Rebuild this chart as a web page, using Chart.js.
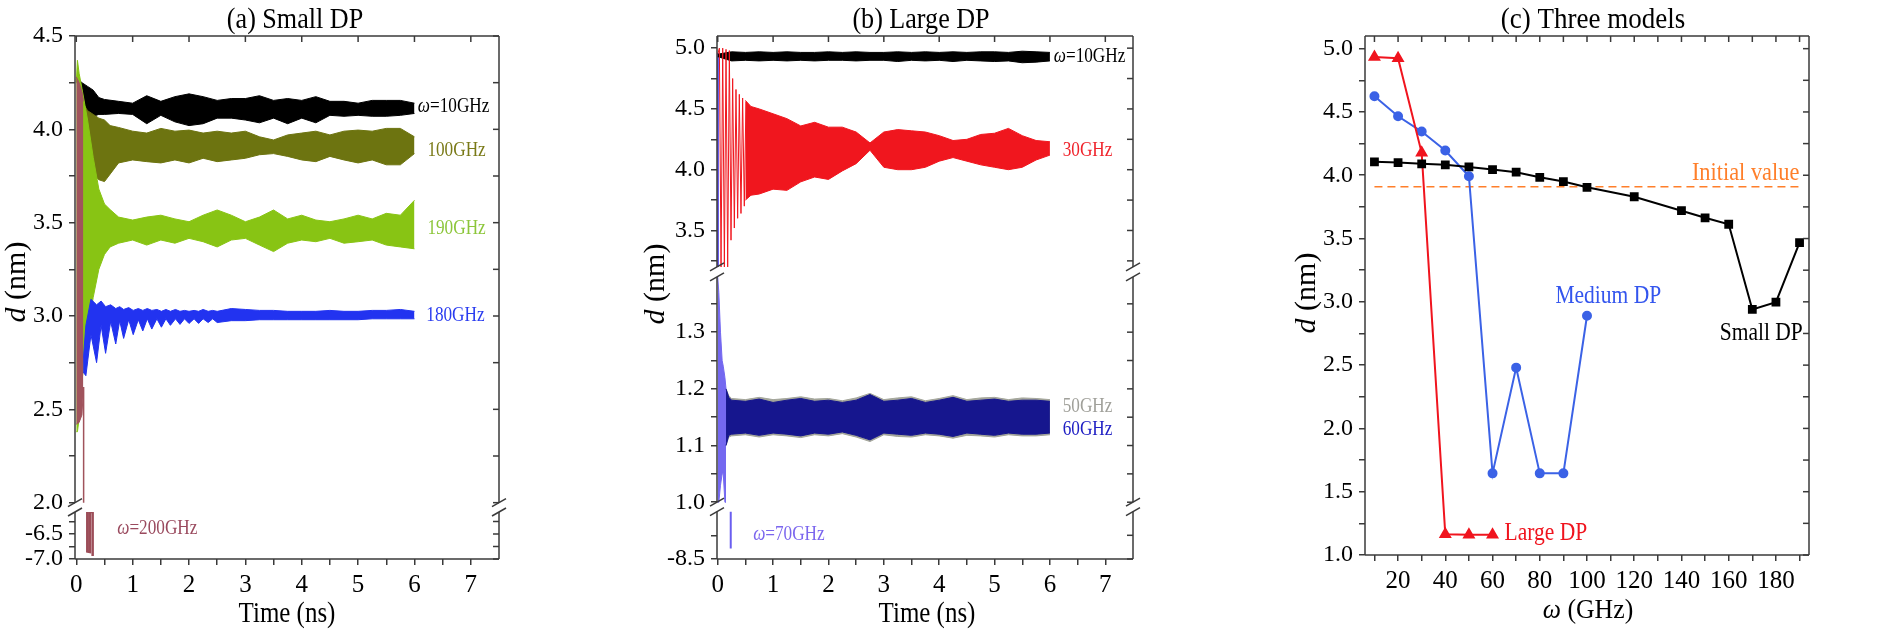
<!DOCTYPE html>
<html>
<head>
<meta charset="utf-8">
<script src="https://cdn.jsdelivr.net/npm/chart.js@4.4.1/dist/chart.umd.min.js"></script>
<style>
  body { margin: 0; background: #fff; width: 1900px; height: 635px; position: relative; overflow: hidden; }
  canvas { position: absolute; top: 0; }
</style>
</head>
<body>
<canvas id="pa" width="560" height="635" style="left:0px"></canvas>
<canvas id="pb" width="560" height="635" style="left:620px"></canvas>
<canvas id="pc" width="640" height="635" style="left:1260px"></canvas>
<script>
var FONT = '"Liberation Serif", "DejaVu Serif", serif';
var AX = "#3a3a3a";

// ---- axis ticks ----
var timeTicks = [0, 0.5, 1, 1.5, 2, 2.5, 3, 3.5, 4, 4.5, 5, 5.5, 6, 6.5, 7];
var timeLabels = [0, 1, 2, 3, 4, 5, 6, 7];
var aTopTicks = [2, 2.25, 2.5, 2.75, 3, 3.25, 3.5, 3.75, 4, 4.25, 4.5];
var aTopLabels = [2, 2.5, 3, 3.5, 4, 4.5];
var aLowTicks = [-7, -6.75, -6.5, -6.25];
var aLowLabels = [-7, -6.5];
var bTopTicks = [3.25, 3.5, 3.75, 4, 4.25, 4.5, 4.75, 5];
var bTopLabels = [3.5, 4, 4.5, 5];
var bMidTicks = [1, 1.05, 1.1, 1.15, 1.2, 1.25, 1.3, 1.35];
var bMidLabels = [1, 1.1, 1.2, 1.3];
var bLowTicks = [-8.5, -8];
var bLowLabels = [-8.5];
var cYTicks = [1, 1.25, 1.5, 1.75, 2, 2.25, 2.5, 2.75, 3, 3.25, 3.5, 3.75, 4, 4.25, 4.5, 4.75, 5];
var cYLabels = [1, 1.5, 2, 2.5, 3, 3.5, 4, 4.5, 5];
var cXTicks = [10, 20, 30, 40, 50, 60, 70, 80, 90, 100, 110, 120, 130, 140, 150, 160, 170, 180, 190];
var cXLabels = [20, 40, 60, 80, 100, 120, 140, 160, 180];

// ---- (a) Small DP: envelopes of the oscillating traces ----
var a10T  = [0, 0.1, 0.2, 0.3, 0.4, 0.5, 0.75, 1, 1.25, 1.5, 1.75, 2, 2.25, 2.5, 2.75, 3, 3.25, 3.5, 3.75, 4, 4.25, 4.5, 4.75, 5, 5.25, 5.5, 5.75, 6];
var a10Hi = [4.28, 4.25, 4.23, 4.21, 4.17, 4.16, 4.15, 4.14, 4.18, 4.15, 4.175, 4.19, 4.175, 4.155, 4.165, 4.165, 4.18, 4.155, 4.165, 4.155, 4.175, 4.15, 4.15, 4.14, 4.155, 4.155, 4.155, 4.14];
var a10Lo = [4.27, 4.15, 4.08, 4.07, 4.08, 4.08, 4.085, 4.08, 4.03, 4.075, 4.04, 4.02, 4.03, 4.06, 4.06, 4.05, 4.035, 4.06, 4.03, 4.06, 4.035, 4.075, 4.07, 4.075, 4.07, 4.07, 4.075, 4.085];

var a100T  = [0.05, 0.1, 0.2, 0.3, 0.4, 0.5, 0.6, 0.75, 1, 1.25, 1.5, 1.75, 2, 2.25, 2.5, 2.75, 3, 3.25, 3.5, 3.75, 4, 4.25, 4.5, 4.75, 5, 5.25, 5.5, 5.75, 6];
var a100Hi = [4.22, 4.15, 4.1, 4.08, 4.06, 4.05, 4.02, 4.01, 3.99, 3.98, 4.005, 3.99, 3.996, 3.98, 3.99, 3.98, 3.99, 3.96, 3.943, 3.97, 3.98, 3.99, 3.97, 3.99, 3.996, 3.99, 4.005, 4.005, 3.96];
var a100Lo = [4.2, 4.0, 3.85, 3.76, 3.73, 3.72, 3.76, 3.82, 3.836, 3.827, 3.82, 3.836, 3.82, 3.845, 3.827, 3.836, 3.845, 3.864, 3.87, 3.855, 3.836, 3.827, 3.855, 3.836, 3.82, 3.836, 3.81, 3.81, 3.87];

var a190T  = [0, 0.02, 0.05, 0.1, 0.2, 0.3, 0.4, 0.5, 0.6, 0.75, 1, 1.25, 1.5, 1.75, 2, 2.25, 2.5, 2.75, 3, 3.25, 3.5, 3.75, 4, 4.25, 4.5, 4.75, 5, 5.25, 5.5, 5.75, 6];
var a190Hi = [4.25, 4.37, 4.3, 4.22, 4.05, 3.85, 3.68, 3.6, 3.57, 3.53, 3.514, 3.53, 3.54, 3.52, 3.505, 3.54, 3.568, 3.54, 3.505, 3.53, 3.568, 3.52, 3.54, 3.514, 3.505, 3.52, 3.54, 3.52, 3.55, 3.54, 3.62];
var a190Lo = [2.38, 2.38, 2.45, 2.65, 2.9, 3.1, 3.25, 3.33, 3.37, 3.39, 3.407, 3.38, 3.407, 3.39, 3.416, 3.398, 3.37, 3.407, 3.416, 3.38, 3.345, 3.39, 3.407, 3.398, 3.416, 3.39, 3.398, 3.407, 3.38, 3.37, 3.36];

// 180 GHz: scalloped start, read dip by dip
var a180T  = [0.12, 0.17, 0.26, 0.36, 0.44, 0.52, 0.61, 0.7, 0.77, 0.84, 0.93, 1.01, 1.1, 1.18, 1.26, 1.34, 1.43, 1.51, 1.59, 1.67, 1.76, 1.84, 1.92, 2.0, 2.09, 2.17, 2.25, 2.34, 2.42, 2.5, 2.75, 3, 3.25, 3.5, 3.75, 4, 4.25, 4.5, 4.75, 5, 5.25, 5.5, 5.75, 6];
var a180Hi = [2.75, 2.95, 3.09, 3.06, 3.08, 3.05, 3.06, 3.04, 3.05, 3.035, 3.045, 3.03, 3.04, 3.03, 3.04, 3.03, 3.035, 3.025, 3.035, 3.025, 3.035, 3.025, 3.03, 3.025, 3.03, 3.025, 3.035, 3.025, 3.03, 3.025, 3.04, 3.035, 3.03, 3.03, 3.025, 3.025, 3.025, 3.03, 3.025, 3.025, 3.03, 3.03, 3.035, 3.025];
var a180Lo = [2.7, 2.68, 2.9, 2.75, 2.95, 2.8, 2.97, 2.85, 2.975, 2.88, 2.98, 2.9, 2.98, 2.92, 2.985, 2.93, 2.985, 2.94, 2.985, 2.95, 2.985, 2.955, 2.985, 2.96, 2.985, 2.96, 2.985, 2.965, 2.985, 2.965, 2.975, 2.975, 2.98, 2.98, 2.98, 2.98, 2.98, 2.98, 2.98, 2.98, 2.985, 2.985, 2.985, 2.985];

var a200T  = [0, 0.05, 0.1, 0.125];
var a200Hi = [4.28, 4.25, 4.2, 4.15];
var a200Lo = [2.42, 2.43, 2.47, 2.6];
var a200DropX = [0.13, 0.13];
var a200DropY = [2.62, 2.0];
var a200LowX = [0.195, 0.195, 0.24, 0.24, 0.29, 0.29];
var a200LowY = [-6.06, -6.85, -6.86, -6.06, -6.06, -6.94];

// ---- (b) Large DP ----
var b10T  = [0, 0.25, 0.5, 0.75, 1, 1.25, 1.5, 1.75, 2, 2.25, 2.5, 2.75, 3, 3.25, 3.5, 3.75, 4, 4.25, 4.5, 4.75, 5, 5.25, 5.5, 5.75, 6];
var b10Hi = [4.95, 4.97, 4.965, 4.97, 4.965, 4.97, 4.965, 4.965, 4.97, 4.965, 4.97, 4.965, 4.965, 4.97, 4.965, 4.97, 4.965, 4.97, 4.965, 4.97, 4.97, 4.965, 4.975, 4.97, 4.965];
var b10Lo = [4.93, 4.895, 4.9, 4.895, 4.9, 4.895, 4.9, 4.895, 4.9, 4.9, 4.895, 4.9, 4.9, 4.89, 4.9, 4.895, 4.9, 4.89, 4.9, 4.895, 4.89, 4.895, 4.88, 4.885, 4.895];

var b30ZigT = [0, 0.03, 0.06, 0.09, 0.12, 0.15, 0.18, 0.21, 0.24, 0.27, 0.3, 0.33, 0.36, 0.39, 0.42, 0.45, 0.48, 0.51];
var b30ZigD = [4.95, 5.0, 3.2, 5.0, 3.2, 4.99, 3.2, 4.98, 3.42, 4.75, 3.52, 4.66, 3.6, 4.62, 3.64, 4.59, 3.7, 4.56];
var b30T  = [0.5, 0.6, 0.75, 1, 1.25, 1.5, 1.75, 2, 2.25, 2.5, 2.75, 3, 3.25, 3.5, 3.75, 4, 4.25, 4.5, 4.75, 5, 5.25, 5.5, 5.75, 6];
var b30Hi = [4.57, 4.52, 4.5, 4.46, 4.42, 4.36, 4.39, 4.35, 4.35, 4.31, 4.22, 4.31, 4.33, 4.32, 4.31, 4.28, 4.24, 4.25, 4.29, 4.3, 4.34, 4.28, 4.24, 4.23];
var b30Lo = [3.75, 3.79, 3.8, 3.84, 3.83, 3.9, 3.94, 3.92, 3.99, 4.05, 4.16, 4.02, 4.0, 4.0, 4.02, 4.07, 4.1, 4.07, 4.04, 4.02, 4.0, 4.02, 4.08, 4.12];

var b70UpX = [0.005, 0.005];
var b70UpY = [4.96, 3.2];
var b70T  = [0, 0.02, 0.05, 0.08, 0.1, 0.13, 0.15];
var b70Hi = [1.3975, 1.37, 1.3, 1.25, 1.24, 1.22, 1.2];
var b70Lo = [1.0, 1.0, 1.03, 1.05, 1.05, 1.0, 1.0];
var b70LowX = [0.235, 0.235];
var b70LowY = [-7.5, -8.28];

var b60T  = [0.15, 0.2, 0.25, 0.5, 0.75, 1, 1.25, 1.5, 1.75, 2, 2.25, 2.5, 2.75, 3, 3.25, 3.5, 3.75, 4, 4.25, 4.5, 4.75, 5, 5.25, 5.5, 5.75, 6];
var b60Hi = [1.2, 1.185, 1.18, 1.178, 1.182, 1.176, 1.18, 1.183, 1.178, 1.18, 1.176, 1.18, 1.19, 1.178, 1.18, 1.183, 1.176, 1.18, 1.185, 1.178, 1.18, 1.182, 1.178, 1.18, 1.18, 1.178];
var b60Lo = [1.1, 1.118, 1.12, 1.122, 1.118, 1.122, 1.12, 1.117, 1.122, 1.12, 1.124, 1.118, 1.11, 1.122, 1.12, 1.118, 1.122, 1.12, 1.116, 1.122, 1.12, 1.118, 1.122, 1.12, 1.12, 1.122];
var b50Hi = [1.2, 1.188, 1.183, 1.181, 1.185, 1.181, 1.183, 1.186, 1.182, 1.183, 1.179, 1.184, 1.192, 1.181, 1.184, 1.186, 1.179, 1.183, 1.188, 1.181, 1.184, 1.185, 1.181, 1.184, 1.183, 1.181];
var b50Lo = [1.1, 1.115, 1.117, 1.119, 1.115, 1.119, 1.117, 1.114, 1.119, 1.117, 1.121, 1.115, 1.107, 1.119, 1.116, 1.115, 1.119, 1.117, 1.113, 1.118, 1.117, 1.115, 1.119, 1.117, 1.117, 1.119];

// ---- (c) Three models ----
var cSmallW = [10, 20, 30, 40, 50, 60, 70, 80, 90, 100, 120, 140, 150, 160, 170, 180, 190];
var cSmall  = [4.106, 4.10, 4.09, 4.082, 4.066, 4.045, 4.024, 3.984, 3.95, 3.905, 3.83, 3.72, 3.664, 3.613, 2.94, 2.997, 3.468];
var cMediumW = [10, 20, 30, 40, 50, 60, 70, 80, 90, 100];
var cMedium  = [4.624, 4.466, 4.345, 4.195, 3.992, 1.645, 2.48, 1.645, 1.645, 2.89];
var cLargeW = [10, 20, 30, 40, 50, 60];
var cLarge  = [4.935, 4.925, 4.177, 1.163, 1.16, 1.16];
var cInitW = [10, 190];
var cInit  = [3.91, 3.91];

// ---------------- helpers ----------------
Chart.defaults.font.family = FONT;
Chart.defaults.color = "#000";

function pts(xs, ys) {
  return xs.map(function (x, i) { return { x: x, y: ys[i] }; });
}
function band(t, hi, lo, color, axis) {
  return [
    { data: pts(t, hi), yAxisID: axis, borderColor: color, backgroundColor: color, borderWidth: 1, pointRadius: 0, fill: "+1" },
    { data: pts(t, lo), yAxisID: axis, borderColor: color, borderWidth: 1, pointRadius: 0, fill: false }
  ];
}
function trace(x, y, color, axis, w) {
  return { data: pts(x, y), yAxisID: axis, borderColor: color, borderWidth: w || 1.5, pointRadius: 0, fill: false };
}
function has(list, v) {
  return list.some(function (m) { return Math.abs(m - v) < 1e-6; });
}
function lab(list, dec) {
  return function (v) { return has(list, v) ? Number(v).toFixed(dec) : ""; };
}
function setTicks(vals) {
  return function (sc) { sc.ticks = vals.map(function (v) { return { value: v }; }); };
}

function yAxes(segs, width) {
  var out = {};
  segs.forEach(function (s, i) {
    out[s.id] = {
      type: "linear", position: "left", stack: "d", stackWeight: s.px, weight: segs.length - i,
      min: s.min, max: s.max, bounds: "data",
      border: { display: false },
      grid: { drawOnChartArea: false, tickLength: 6, color: AX, lineWidth: 1.5 },
      ticks: { font: { size: 24 }, color: "#000", padding: 6, autoSkip: false, callback: lab(s.labels, 1) },
      afterBuildTicks: setTicks(s.ticks),
      afterFit: function (sc) { sc.width = width; }
    };
  });
  return out;
}
function xAxis(min, max, ticks, labels, height) {
  return {
    type: "linear", position: "bottom", min: min, max: max, bounds: "data",
    border: { display: false },
    grid: { drawOnChartArea: false, tickLength: 6, color: AX, lineWidth: 1.5 },
    ticks: { font: { size: 25 }, color: "#000", padding: 5, autoSkip: false, maxRotation: 0, callback: lab(labels, 0) },
    afterBuildTicks: setTicks(ticks),
    afterFit: function (sc) { sc.height = height; }
  };
}

function line(ctx, x1, y1, x2, y2) {
  ctx.beginPath(); ctx.moveTo(x1, y1); ctx.lineTo(x2, y2); ctx.stroke();
}
function brk(ctx, x, y) {
  line(ctx, x - 7, y + 4, x + 7, y - 4);
}
function write(ctx, parts, x, y, size, color, align, sq, rot) {
  ctx.save();
  ctx.translate(x, y);
  if (rot) ctx.rotate(-Math.PI / 2); else ctx.scale(sq || 1, 1);
  ctx.fillStyle = color;
  ctx.textBaseline = "middle";
  ctx.textAlign = "left";
  function f(p) { return (p[1] ? "italic " : "") + size + "px " + FONT; }
  var w = 0;
  parts.forEach(function (p) { ctx.font = f(p); w += ctx.measureText(p[0]).width; });
  var cx = align === "left" ? 0 : align === "right" ? -w : -w / 2;
  parts.forEach(function (p) { ctx.font = f(p); ctx.fillText(p[0], cx, 0); cx += ctx.measureText(p[0]).width; });
  ctx.restore();
}

// frame, broken-axis marks, mirrored ticks and all the text
function deco(cfg) {
  return {
    id: "deco",
    afterDraw: function (chart) {
      var ctx = chart.ctx, a = chart.chartArea, xs = chart.scales.x;
      ctx.save();
      ctx.strokeStyle = AX;
      ctx.lineWidth = 1.5;
      line(ctx, a.left, a.top, a.right, a.top);
      line(ctx, a.left, a.bottom, a.right, a.bottom);
      var prevLo = null;
      cfg.segs.forEach(function (s) {
        var sc = chart.scales[s.id];
        var yHi = sc.getPixelForValue(s.hi), yLo = sc.getPixelForValue(s.lo);
        line(ctx, a.left, yHi, a.left, yLo);
        line(ctx, a.right, yHi, a.right, yLo);
        s.ticks.forEach(function (v) {
          var y = sc.getPixelForValue(v);
          line(ctx, a.right, y, a.right - 6, y);
        });
        if (prevLo !== null) {
          [a.left, a.right].forEach(function (x) { brk(ctx, x, prevLo); brk(ctx, x, yHi); });
        }
        prevLo = yLo;
      });
      cfg.topTicks.forEach(function (v) {
        var x = xs.getPixelForValue(v);
        line(ctx, x, a.top, x, a.top + 6);
      });
      cfg.notes.forEach(function (n) {
        write(ctx, n.p, xs.getPixelForValue(n.x), chart.scales[n.ax].getPixelForValue(n.y),
          n.s, n.c, n.al || "left", 0.86, false);
      });
      cfg.heads.forEach(function (h) {
        write(ctx, h.p, h.x, h.y, h.s, "#000", "center", h.sq, h.rot);
      });
      ctx.restore();
    }
  };
}

function make(id, datasets, scales, pad, cfg) {
  return new Chart(document.getElementById(id), {
    type: "line",
    data: { datasets: datasets },
    options: {
      responsive: false,
      animation: false,
      devicePixelRatio: 1,
      layout: { padding: pad },
      elements: { line: { tension: 0 } },
      plugins: { legend: { display: false }, tooltip: { enabled: false }, title: { display: false } },
      scales: scales
    },
    plugins: [deco(cfg)]
  });
}

// ---------------- (a) ----------------
var aSegs = [
  { id: "y1", min: 1.95, max: 4.5, hi: 4.5, lo: 2.0, px: 476, ticks: aTopTicks, labels: aTopLabels },
  { id: "y2", min: -7.0, max: -6.06, hi: -6.06, lo: -7.0, px: 47, ticks: aLowTicks, labels: aLowLabels }
];
var aScales = yAxes(aSegs, 75);
aScales.x = xAxis(-0.023, 7.5, timeTicks, timeLabels, 76);
make("pa",
  [trace(a200LowX, a200LowY, "#9c4d58", "y2", 2.5)]
    .concat(band(a200T, a200Hi, a200Lo, "#a0535c", "y1"))
    .concat([trace(a200DropX, a200DropY, "#a0535c", "y1", 1.5)])
    .concat(band(a180T, a180Hi, a180Lo, "#2233f0", "y1"))
    .concat(band(a190T, a190Hi, a190Lo, "#88c414", "y1"))
    .concat(band(a100T, a100Hi, a100Lo, "#6d7410", "y1"))
    .concat(band(a10T, a10Hi, a10Lo, "#000000", "y1")),
  aScales,
  { left: 0, right: 61, top: 36, bottom: 0 },
  {
    segs: aSegs,
    topTicks: timeLabels,
    notes: [
      { p: [["\u03c9", 1], ["=10GHz"]], x: 6.06, y: 4.12, ax: "y1", s: 20, c: "#000" },
      { p: [["100GHz"]], x: 6.23, y: 3.886, ax: "y1", s: 20, c: "#7a7a18" },
      { p: [["190GHz"]], x: 6.23, y: 3.47, ax: "y1", s: 20, c: "#8cc63a" },
      { p: [["180GHz"]], x: 6.21, y: 3.0, ax: "y1", s: 20, c: "#2a3cf0" },
      { p: [["\u03c9", 1], ["=200GHz"]], x: 0.727, y: -6.39, ax: "y2", s: 20, c: "#9a4a5e" }
    ],
    heads: [
      { p: [["(a) Small DP"]], x: 295, y: 20, s: 29, sq: 0.9 },
      { p: [["Time (ns)"]], x: 287, y: 614, s: 29, sq: 0.86 },
      { p: [["d", 1], [" (nm)"]], x: 17, y: 282, s: 30, rot: true }
    ]
  });

// ---------------- (b) ----------------
var bSegs = [
  { id: "y1", min: 3.118, max: 5.1, hi: 5.1, lo: 3.2, px: 241, ticks: bTopTicks, labels: bTopLabels },
  { id: "y2", min: 0.9834, max: 1.3975, hi: 1.3975, lo: 1.0, px: 234.8, ticks: bMidTicks, labels: bMidLabels },
  { id: "y3", min: -8.5, max: -7.5, hi: -7.5, lo: -8.5, px: 47.4, ticks: bLowTicks, labels: bLowLabels }
];
var bScales = yAxes(bSegs, 97);
bScales.x = xAxis(-0.013, 7.5, timeTicks, timeLabels, 76);
make("pb",
  [trace(b30ZigT, b30ZigD, "#f0161e", "y1", 1)]
    .concat(band(b30T, b30Hi, b30Lo, "#f0161e", "y1"))
    .concat(band(b10T, b10Hi, b10Lo, "#000000", "y1"))
    .concat([trace(b70UpX, b70UpY, "#6a5ef0", "y1", 2), trace(b70LowX, b70LowY, "#6a5ef0", "y3", 2)])
    .concat(band(b60T, b60Hi, b60Lo, "#16168e", "y2"))
    .concat(band(b70T, b70Hi, b70Lo, "#7468f0", "y2"))
    .concat(band(b60T, b50Hi, b50Lo, "#a3a59a", "y2")),
  bScales,
  { left: 0, right: 47, top: 36, bottom: 0 },
  {
    segs: bSegs,
    topTicks: timeLabels,
    notes: [
      { p: [["\u03c9", 1], ["=10GHz"]], x: 6.07, y: 4.93, ax: "y1", s: 20, c: "#000" },
      { p: [["30GHz"]], x: 6.23, y: 4.16, ax: "y1", s: 20, c: "#f0242c" },
      { p: [["50GHz"]], x: 6.23, y: 1.168, ax: "y2", s: 20, c: "#a0a09a" },
      { p: [["60GHz"]], x: 6.23, y: 1.128, ax: "y2", s: 20, c: "#2020c4" },
      { p: [["\u03c9", 1], ["=70GHz"]], x: 0.64, y: -7.985, ax: "y3", s: 20, c: "#7b66ee" }
    ],
    heads: [
      { p: [["(b) Large DP"]], x: 301, y: 20, s: 29, sq: 0.9 },
      { p: [["Time (ns)"]], x: 307, y: 614, s: 29, sq: 0.86 },
      { p: [["d", 1], [" (nm)"]], x: 36, y: 284, s: 30, rot: true }
    ]
  });

// ---------------- (c) ----------------
var cSegs = [
  { id: "y", min: 1.0, max: 5.1, hi: 5.1, lo: 1.0, px: 1, ticks: cYTicks, labels: cYLabels }
];
var cScales = yAxes(cSegs, 105);
cScales.x = xAxis(6, 194, cXTicks, cXLabels, 80);
make("pc",
  [
    { data: pts(cSmallW, cSmall), yAxisID: "y", borderColor: "#000", backgroundColor: "#000", borderWidth: 2, pointStyle: "rect", pointRadius: 4.8, fill: false },
    { data: pts(cLargeW, cLarge), yAxisID: "y", borderColor: "#f0141e", backgroundColor: "#f0141e", borderWidth: 2, pointStyle: "triangle", pointRadius: 5.5, fill: false },
    { data: pts(cMediumW, cMedium), yAxisID: "y", borderColor: "#3b62e6", backgroundColor: "#3b62e6", borderWidth: 2, pointStyle: "circle", pointRadius: 4, fill: false },
    { data: pts(cInitW, cInit), yAxisID: "y", borderColor: "#ff7f2a", borderWidth: 1.5, borderDash: [8, 5], pointRadius: 0, fill: false }
  ],
  cScales,
  { left: 0, right: 91, top: 36, bottom: 0 },
  {
    segs: cSegs,
    topTicks: cXTicks,
    notes: [
      { p: [["Initial value"]], x: 189.9, y: 4.02, ax: "y", s: 26, c: "#ff7f2a", al: "right" },
      { p: [["Medium DP"]], x: 109, y: 3.04, ax: "y", s: 25, c: "#3355ee", al: "center" },
      { p: [["Small DP"]], x: 173.8, y: 2.75, ax: "y", s: 25, c: "#000", al: "center" },
      { p: [["Large DP"]], x: 65.1, y: 1.17, ax: "y", s: 25, c: "#f0141e" }
    ],
    heads: [
      { p: [["(c) Three models"]], x: 333, y: 20, s: 30, sq: 0.9 },
      { p: [["\u03c9", 1], [" (GHz)"]], x: 328, y: 611, s: 28, sq: 0.92 },
      { p: [["d", 1], [" (nm)"]], x: 47, y: 293, s: 30, rot: true }
    ]
  });
</script>
</body>
</html>
